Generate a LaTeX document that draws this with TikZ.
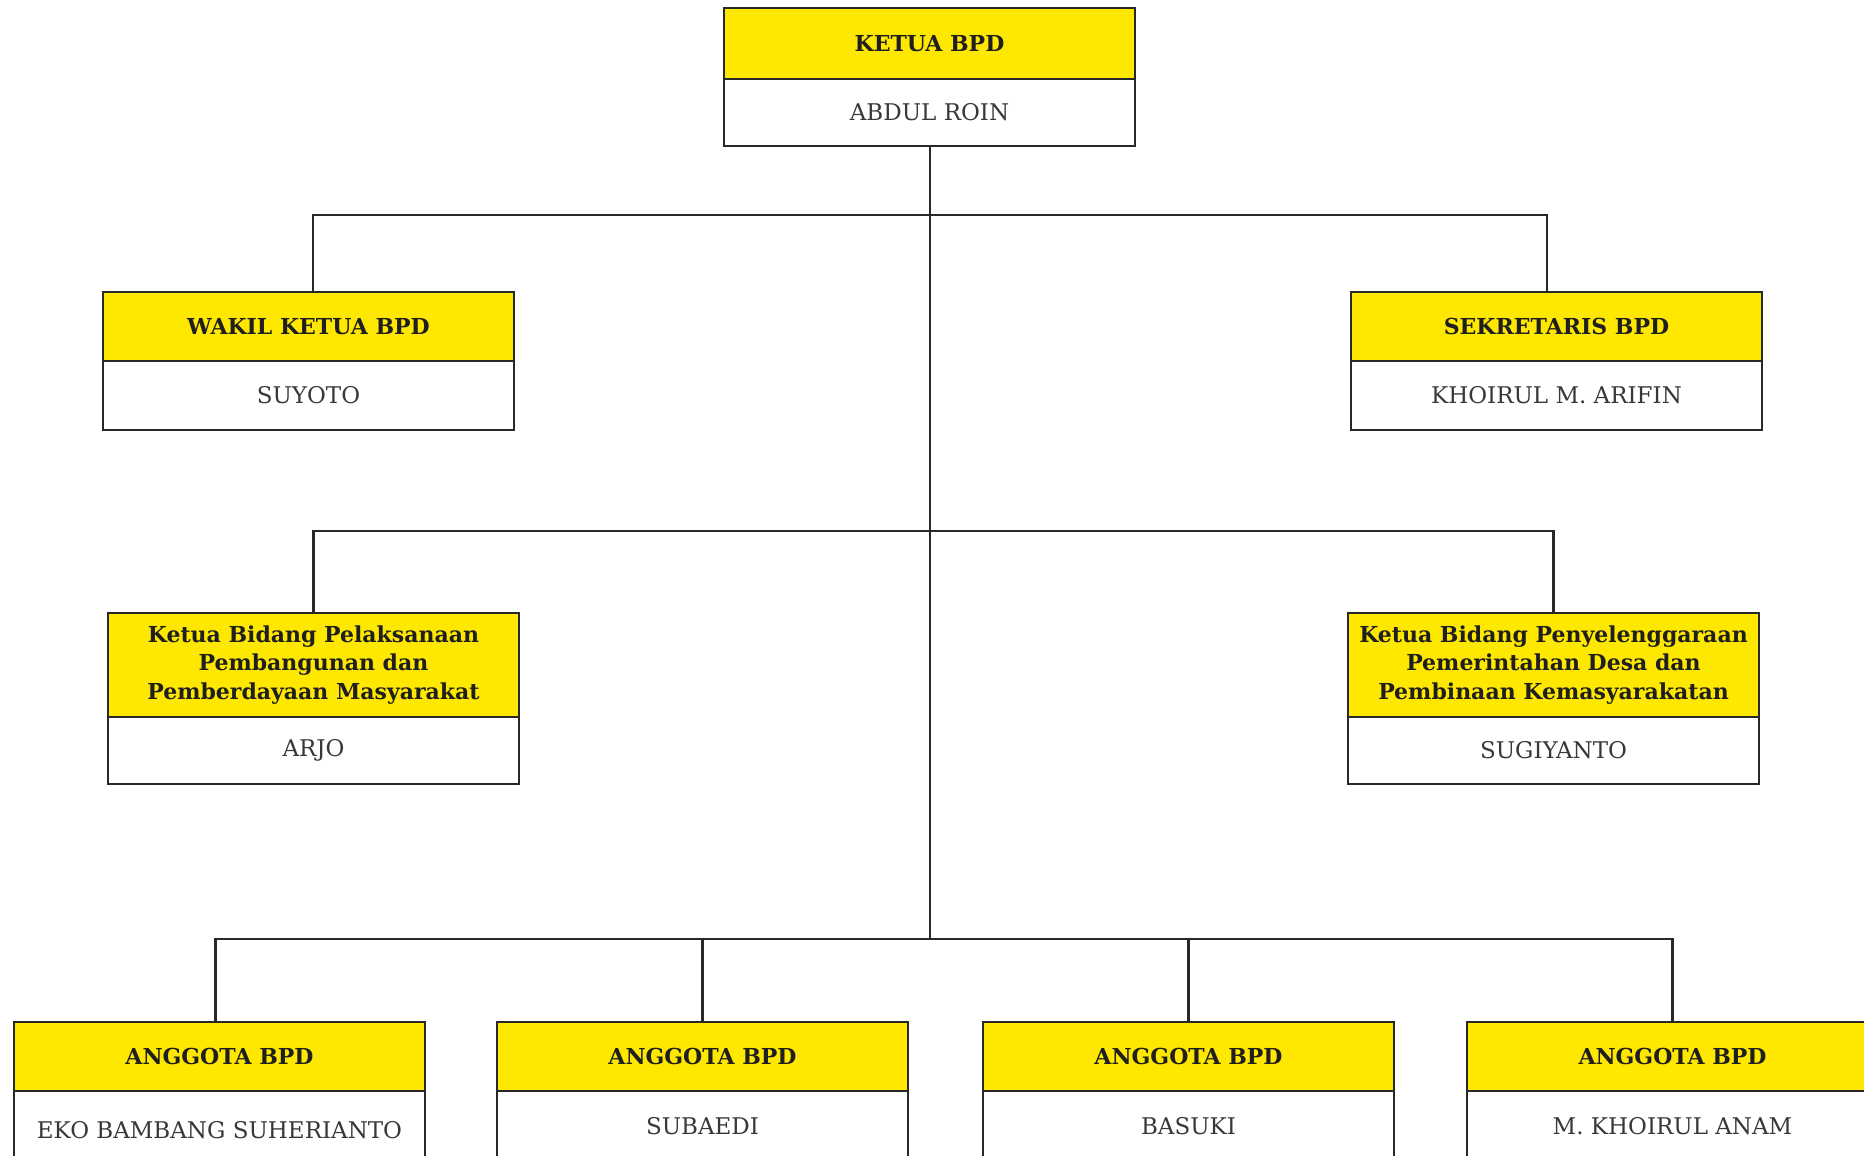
\documentclass[tikz,border=0pt]{standalone}
\usepackage{fontspec}
\setmainfont{DejaVu Serif}
\definecolor{hdr}{RGB}{255,232,0}
\definecolor{ln}{RGB}{40,40,40}
\begin{document}
\begin{tikzpicture}[x=1pt,y=-1pt,
  hbox/.style={draw=ln, line width=2.4pt, fill=hdr, minimum width=411pt, anchor=north west,
    inner sep=0pt, outer sep=0pt, font=\fontsize{22}{27}\selectfont\bfseries, text=black!88, align=center},
  bbox/.style={hbox, font=\fontsize{22}{28.5}\selectfont\bfseries},
  nbox/.style={draw=ln, line width=2.4pt, fill=white, minimum width=411pt, anchor=north,
    inner sep=0pt, outer sep=0pt, font=\fontsize{23}{27}\selectfont, text=black!78},
  conn/.style={draw=ln, line width=2.4pt}]
\useasboundingbox (0,0) rectangle (1864,1156);
\fill[white] (0,0) rectangle (1864,1156);
\begin{scope}
\clip (0,0) rectangle (1864,1156);
% top
\node[hbox, minimum height=71pt] (k) at (724,8) {KETUA BPD};
\node[nbox, minimum height=67pt] (kn) at (k.south) {ABDUL ROIN};
% second row
\node[hbox, minimum height=69pt] (w) at (103,292) {WAKIL KETUA BPD};
\node[nbox, minimum height=69pt] (wn) at (w.south) {SUYOTO};
\node[hbox, minimum height=69pt] (s) at (1351,292) {SEKRETARIS BPD};
\node[nbox, minimum height=69pt] (sn) at (s.south) {KHOIRUL M. ARIFIN};
% third row
\node[bbox, minimum height=104pt] (b1) at (108,613) {Ketua Bidang Pelaksanaan\\Pembangunan dan\\Pemberdayaan Masyarakat};
\node[nbox, minimum height=67pt] (b1n) at (b1.south) {ARJO};
\node[bbox, minimum height=104pt] (b2) at (1348,613) {Ketua Bidang Penyelenggaraan\\Pemerintahan Desa dan\\Pembinaan Kemasyarakatan};
\node[nbox, minimum height=67pt] (b2n) at (b2.south) {SUGIYANTO};
% bottom row
\node[hbox, minimum height=69pt] (a1) at (14,1022) {ANGGOTA BPD};
\node[nbox, minimum height=78pt] (a1n) at (a1.south) {EKO BAMBANG SUHERIANTO};
\node[hbox, minimum height=69pt] (a2) at (497,1022) {ANGGOTA BPD};
\node[nbox, minimum height=70pt] (a2n) at (a2.south) {SUBAEDI};
\node[hbox, minimum height=69pt] (a3) at (983,1022) {ANGGOTA BPD};
\node[nbox, minimum height=70pt] (a3n) at (a3.south) {BASUKI};
\node[hbox, minimum height=69pt] (a4) at (1467,1022) {ANGGOTA BPD};
\node[nbox, minimum height=70pt] (a4n) at (a4.south) {M. KHOIRUL ANAM};
% junctions
\coordinate (j1) at (930,215);
\coordinate (j2) at (930,531);
\coordinate (j3) at (930,939);
% connectors
\draw[conn] (kn.south -| j1) -- (j3);
\draw[conn] ([xshift=4.5pt]w.north) |- (j1) -| ([xshift=-9.5pt]s.north);
\draw[conn] (b1.north) |- (j2) -| (b2.north);
\draw[conn] ([xshift=-4pt]a1.north) |- (j3) -| (a4.north);
\draw[conn] (a2.north) -- (a2.north |- j3);
\draw[conn] (a3.north) -- (a3.north |- j3);
\end{scope}
\end{tikzpicture}
\end{document}
